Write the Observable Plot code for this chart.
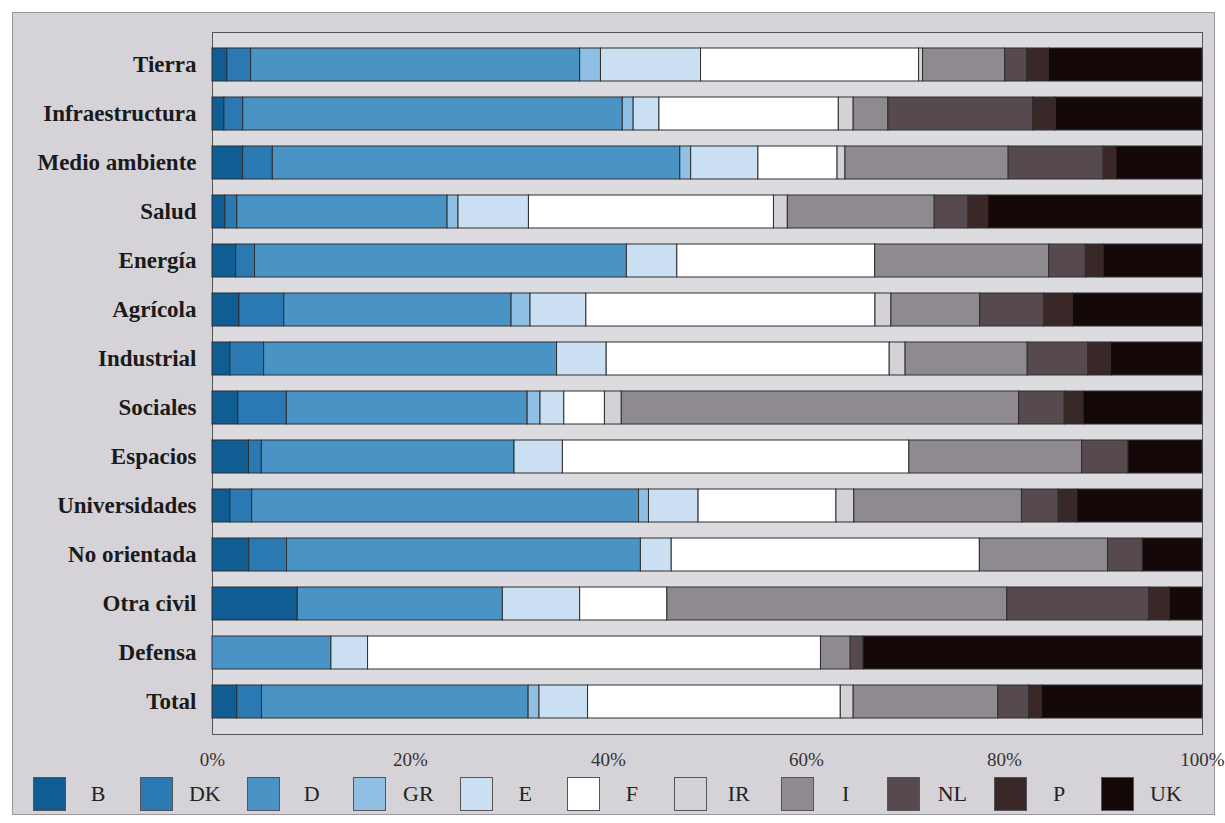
<!DOCTYPE html>
<html>
<head>
<meta charset="utf-8">
<script src="https://cdn.jsdelivr.net/npm/d3@7"></script>
<script src="https://cdn.jsdelivr.net/npm/@observablehq/plot@0.6"></script>
<style>
  html, body { margin: 0; padding: 0; background: #ffffff; }
  #box { position: absolute; left: 12px; top: 12px; width: 1201px; height: 801px;
         border: 1px solid #9a999e; background: #d5d3d8; }
  #chart { position: absolute; left: 0; top: 0; }
  #chart svg { overflow: visible; }
  #legend { position: absolute; left: 20px; top: 764px; display: flex;
            font-family: "Liberation Serif", serif; font-size: 22px; color: #222; }
  .item { width: 106.8px; display: flex; align-items: center; }
  .sw { width: 33px; height: 34px; border: 1px solid #555; box-sizing: border-box; }
  .lb { width: 64px; text-align: center; }
</style>
</head>
<body>
<div id="box">
  <div id="chart"></div>
  <div id="legend"></div>
</div>
<script>
const categories = ["Tierra", "Infraestructura", "Medio ambiente", "Salud", "Energía", "Agrícola",
  "Industrial", "Sociales", "Espacios", "Universidades", "No orientada", "Otra civil", "Defensa", "Total"];
const series = ["B", "DK", "D", "GR", "E", "F", "IR", "I", "NL", "P", "UK"];
const colors = ["#0f5d92", "#2b79b3", "#4a93c5", "#8fc0e3", "#cae0f2", "#ffffff",
  "#d4d2d6", "#8e8a8f", "#564a4f", "#3a2828", "#150808"];

// shares (%) per series, in the order of categories
const B  = [1.5, 1.2, 3.1, 1.3, 2.4, 2.7, 1.8, 2.6, 3.7, 1.8, 3.7, 8.6, 0, 2.5];
const DK = [2.4, 1.9, 3.0, 1.2, 1.9, 4.5, 3.4, 4.9, 1.3, 2.2, 3.8, 0, 0, 2.5];
const D  = [33.2, 38.3, 41.2, 21.2, 37.6, 22.8, 29.5, 24.3, 25.6, 39.0, 35.6, 20.7, 12.0, 26.9];
const GR = [2.1, 1.1, 1.1, 1.1, 0, 1.9, 0, 1.3, 0, 1.0, 0, 0, 0, 1.1];
const E  = [10.1, 2.6, 6.8, 7.1, 5.1, 5.6, 5.0, 2.4, 4.9, 5.0, 3.1, 7.8, 3.7, 4.9];
const F  = [22.0, 18.1, 8.0, 24.7, 20.0, 29.0, 28.5, 4.1, 35.1, 13.9, 31.0, 8.8, 45.7, 25.5];
const IR = [0.4, 1.5, 0.8, 1.4, 0, 1.6, 1.6, 1.7, 0, 1.8, 0, 0, 0, 1.3];
const I  = [8.3, 3.5, 16.5, 14.8, 17.6, 8.9, 12.3, 40.1, 17.5, 16.9, 12.9, 34.3, 3.0, 14.6];
const NL = [2.2, 14.6, 9.6, 3.4, 3.7, 6.4, 6.1, 4.6, 4.7, 3.7, 3.5, 14.3, 1.3, 3.1];
const P  = [2.2, 2.3, 1.3, 2.0, 1.8, 2.9, 2.3, 1.9, 0, 1.9, 0, 2.1, 0, 1.3];
const UK = [15.5, 14.8, 8.7, 21.6, 10.0, 13.0, 9.2, 12.0, 7.5, 12.6, 6.0, 3.3, 34.2, 16.2];
const xTicks = [0, 0.2, 0.4, 0.6, 0.8, 1];

const values = {B, DK, D, GR, E, F, IR, I, NL, P, UK};
const table = [];
for (const s of series) {
  categories.forEach((c, i) => {
    const v = values[s][i];
    if (v > 0) table.push({category: c, country: s, value: v});
  });
}

const plot = Plot.plot({
  width: 1201,
  height: 760,
  marginLeft: 199,
  marginRight: 12,
  marginTop: 19,
  marginBottom: 39,
  style: {fontFamily: "Liberation Serif, serif", background: "transparent", color: "#222", overflow: "visible"},
  x: {domain: [0, 1], ticks: xTicks, tickFormat: d3.format(".0%"), label: null},
  y: {domain: categories, paddingInner: 0.33, paddingOuter: 0.28, label: null},
  color: {domain: series, range: colors},
  marks: [
    Plot.frame({fill: "#dcdbdf", stroke: "#555"}),
    Plot.barX(table, Plot.stackX({
      x: "value", y: "category", fill: "country", offset: "normalize",
      stroke: "#2e2e2e", strokeWidth: 1
    })),
    Plot.axisX({ticks: xTicks, tickFormat: d3.format(".0%"), tickSize: 0, tickPadding: 18,
      fontSize: 19, label: null, fill: "#333"}),
    Plot.axisY({tickSize: 0, tickPadding: 16, fontSize: 23, fontWeight: "bold", label: null, fill: "#1a1a1a"})
  ]
});
document.getElementById("chart").appendChild(plot);

const legend = document.getElementById("legend");
series.forEach((s, i) => {
  const item = document.createElement("div");
  item.className = "item";
  const sw = document.createElement("div");
  sw.className = "sw";
  sw.style.background = colors[i];
  const lb = document.createElement("span");
  lb.className = "lb";
  lb.textContent = s;
  item.appendChild(sw);
  item.appendChild(lb);
  legend.appendChild(item);
});
</script>
</body>
</html>
